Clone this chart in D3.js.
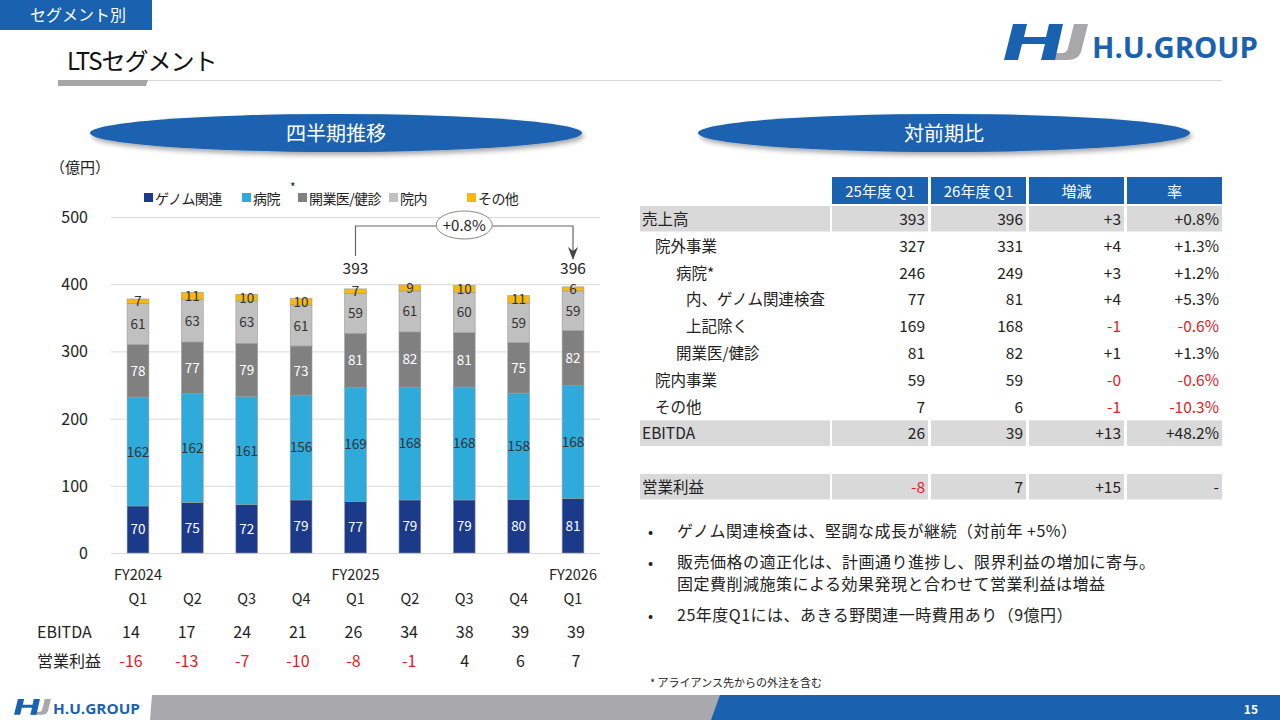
<!DOCTYPE html>
<html><head><meta charset="utf-8">
<script src="https://cdn.jsdelivr.net/npm/d3@7/dist/d3.min.js"></script>
<style>
body{margin:0;background:#fff;}
svg{display:block;font-family:"Noto Sans CJK JP","Noto Sans",sans-serif;}
</style></head><body>
<svg id="c" width="1280" height="720"></svg>
<script>
// ---------- data ----------
const quarters = ["Q1","Q2","Q3","Q4","Q1","Q2","Q3","Q4","Q1"];
const fiscalYears = ["FY2024","","","","FY2025","","","","FY2026"];
const seriesNames = ["ゲノム関連","病院","開業医/健診","院内","その他"];
const genome = [70,75,72,79,77,79,79,80,81];
const hospital = [162,162,161,156,169,168,168,158,168];
const practitioner = [78,77,79,73,81,82,81,75,82];
const inHospital = [61,63,63,61,59,61,60,59,59];
const other = [7,11,10,10,7,9,10,11,6];
const totalsShown = [null,null,null,null,393,null,null,null,396];
const ebitda = [14,17,24,21,26,34,38,39,39];
const opProfit = [-16,-13,-7,-10,-8,-1,4,6,7];
const yTicks = [0,100,200,300,400,500];

const tableHeader = ["25年度 Q1","26年度 Q1","増減","率"];
const tableLabels = ["売上高","院外事業","病院*","内、ゲノム関連検査","上記除く","開業医/健診","院内事業","その他","EBITDA","","営業利益"];
const tableIndent = [0,1,2,3,3,2,1,1,0,0,0];
const tableFy25 = ["393","327","246","77","169","81","59","7","26","","-8"];
const tableFy26 = ["396","331","249","81","168","82","59","6","39","","7"];
const tableDiff = ["+3","+4","+3","+4","-1","+1","-0","-1","+13","","+15"];
const tableRate = ["+0.8%","+1.3%","+1.2%","+5.3%","-0.6%","+1.3%","-0.6%","-10.3%","+48.2%","","-"];
const tableShaded = [true,false,false,false,false,false,false,false,true,false,true];

const bullets = [
  ["ゲノム関連検査は、堅調な成長が継続（対前年 +5%）"],
  ["販売価格の適正化は、計画通り進捗し、限界利益の増加に寄与。","固定費削減施策による効果発現と合わせて営業利益は増益"],
  ["25年度Q1には、あきる野関連一時費用あり（9億円）"]
];

// ---------- styles ----------
const BLUE = "#1a62b0";
const GREY_LOGO = "#a8a8aa";
const colors = ["#1b3a8a","#2eaadb","#808080","#c0c0c0","#f6b90e"];
const labelColors = ["#fff","#333","#fff","#333","#333"];
const RED = "#e0201f";

const svg = d3.select("#c");
const defs = svg.append("defs");
const f = defs.append("filter").attr("id","sh").attr("x","-10%").attr("y","-30%").attr("width","120%").attr("height","170%");
f.append("feDropShadow").attr("dx",2).attr("dy",3).attr("stdDeviation",2.5).attr("flood-color","#000").attr("flood-opacity",0.35);

// ---------- header ----------
svg.append("rect").attr("x",0).attr("y",0).attr("width",152).attr("height",30).attr("fill",BLUE);
svg.append("text").attr("x",30).attr("y",21).attr("fill","#fff").attr("font-size",16).text("セグメント別");
svg.append("text").attr("x",67).attr("y",70).attr("font-size",24).attr("letter-spacing",-1).attr("fill","#111").text("LTSセグメント");
svg.append("line").attr("x1",58).attr("x2",1222).attr("y1",80.5).attr("y2",80.5).attr("stroke","#d6d6d6").attr("stroke-width",1);
svg.append("path").attr("d","M58,80 H148 L146,86 H58 Z").attr("fill","#a6a6a6");

// logo icon drawn as paths (unit box 84x36)
function logoIcon(parent){
  parent.append("path").attr("d","M70,0 H84 L77,28 Q74,36 64,36 H40 L42,29 H58 Q63,29 64,24 Z").attr("fill",GREY_LOGO);
  parent.append("path").attr("d",
    "M9,0 H23 L20,13 H42 L45,0 H59 L51,36 H37 L41,20 H18 L14,36 H0 Z").attr("fill",BLUE);
}
const lg = svg.append("g").attr("transform","translate(1004,24)");
logoIcon(lg);
svg.append("text").attr("x",1092).attr("y",58).attr("font-size",29).attr("font-weight",700)
  .attr("font-family","Open Sans").attr("fill",BLUE).attr("textLength",166).attr("lengthAdjust","spacingAndGlyphs").text("H.U.GROUP");

// section ellipses
[[336,"四半期推移"],[944,"対前期比"]].forEach(([cx,t])=>{
  svg.append("ellipse").attr("cx",cx).attr("cy",133).attr("rx",246).attr("ry",19).attr("fill",BLUE).attr("filter","url(#sh)");
  svg.append("text").attr("x",cx).attr("y",141).attr("text-anchor","middle").attr("fill","#fff").attr("font-size",20).text(t);
});

// ---------- chart ----------
svg.append("text").attr("x",50).attr("y",173).attr("font-size",15).attr("fill","#222").text("（億円）");

const x = d3.scaleBand().domain(d3.range(quarters.length)).range([110.8,600.2]).paddingInner(0.6).paddingOuter(0.3);
const y = d3.scaleLinear().domain([0,500]).range([553,217]);

const grid = svg.append("g").attr("transform","translate(110.8,0)")
  .call(d3.axisLeft(y).tickValues(yTicks).tickSize(-489.4).tickFormat(""));
grid.select(".domain").remove();
grid.selectAll("line").attr("stroke","#d9d9d9");

svg.append("g").selectAll("text").data(yTicks).join("text")
  .attr("x",88).attr("y",d=>y(d)+6).attr("text-anchor","end").attr("font-size",16).attr("fill","#222").text(d=>d);

const seriesArr = [genome,hospital,practitioner,inHospital,other];
const rows = quarters.map((q,i)=>{const o={i}; seriesNames.forEach((n,k)=>o[n]=seriesArr[k][i]); return o;});
const stacked = d3.stack().keys(seriesNames)(rows);

const barG = svg.append("g");
stacked.forEach((layer,k)=>{
  barG.append("g").selectAll("rect").data(layer).join("rect")
    .attr("x",d=>x(d.data.i)).attr("width",x.bandwidth())
    .attr("y",d=>y(d[1])).attr("height",d=>y(d[0])-y(d[1]))
    .attr("fill",colors[k]).attr("stroke","#9a9a9a").attr("stroke-width",0.6);
});
stacked.forEach((layer,k)=>{
  barG.append("g").selectAll("text").data(layer).join("text")
    .attr("x",d=>x(d.data.i)+x.bandwidth()/2)
    .attr("y",d=>y((d[0]+d[1])/2)+5)
    .attr("text-anchor","middle").attr("font-size",13.5).attr("fill",labelColors[k])
    .text(d=>d[1]-d[0]);
});

// totals + growth bracket
const tIdx = totalsShown.map((v,i)=>v==null?null:i).filter(v=>v!=null);
svg.append("g").selectAll("text").data(tIdx).join("text")
  .attr("x",i=>x(i)+x.bandwidth()/2).attr("y",274).attr("text-anchor","middle")
  .attr("font-size",15.5).attr("fill","#222").text(i=>totalsShown[i]);
const xa = x(tIdx[0])+x.bandwidth()/2, xb = x(tIdx[1])+x.bandwidth()/2;
svg.append("path").attr("d",`M${xa},256 V226 H${xb} V252`).attr("fill","none").attr("stroke","#666").attr("stroke-width",1.2);
svg.append("path").attr("d",`M${xb-5},247 L${xb},260 L${xb+5},247 L${xb},251 Z`).attr("fill","#444");
const mx = (xa+xb)/2;
svg.append("ellipse").attr("cx",mx).attr("cy",225).attr("rx",28).attr("ry",14).attr("fill","#fff").attr("stroke","#888");
svg.append("text").attr("x",mx).attr("y",230.5).attr("text-anchor","middle").attr("font-size",15).attr("fill","#222").text("+0.8%");

// legend
const leg = svg.append("g");
const legX = [144,242,298,389,467];
seriesNames.forEach((n,k)=>{
  leg.append("rect").attr("x",legX[k]).attr("y",193).attr("width",9).attr("height",9).attr("fill",colors[k]);
  leg.append("text").attr("x",legX[k]+11).attr("y",203.5).attr("font-size",14).attr("letter-spacing",-0.6).attr("fill","#222").text(n);
});
leg.append("text").attr("x",290).attr("y",192).attr("font-size",12).attr("fill","#222").text("*");

// x labels
svg.append("g").selectAll("text").data(fiscalYears).join("text")
  .attr("x",(d,i)=>x(i)+x.bandwidth()/2).attr("y",580).attr("text-anchor","middle")
  .attr("font-size",14.5).attr("fill","#222").text(d=>d);
svg.append("g").selectAll("text").data(quarters).join("text")
  .attr("x",(d,i)=>x(i)+x.bandwidth()/2).attr("y",604).attr("text-anchor","middle")
  .attr("font-size",14.5).attr("fill","#222").text(d=>d);

// EBITDA / operating profit rows
const xv = d3.scalePoint().domain(d3.range(quarters.length)).range([131,576]);
svg.append("text").attr("x",37).attr("y",638).attr("font-size",16).attr("fill","#222").text("EBITDA");
svg.append("text").attr("x",37).attr("y",667).attr("font-size",16).attr("fill","#222").text("営業利益");
svg.append("g").selectAll("text").data(ebitda).join("text")
  .attr("x",(d,i)=>xv(i)).attr("y",638).attr("text-anchor","middle").attr("font-size",16).attr("fill","#222").text(d=>d);
svg.append("g").selectAll("text").data(opProfit).join("text")
  .attr("x",(d,i)=>xv(i)).attr("y",667).attr("text-anchor","middle").attr("font-size",16)
  .attr("fill",d=>d<0?RED:"#222").text(d=>d);

// ---------- table ----------
const colL = [832,931,1029,1127], colR = [928,1026,1124,1222];
const tg = svg.append("g");
tableHeader.forEach((h,c)=>{
  tg.append("rect").attr("x",colL[c]).attr("y",177).attr("width",colR[c]-colL[c]).attr("height",27).attr("fill",BLUE);
  tg.append("text").attr("x",(colL[c]+colR[c])/2).attr("y",196.5).attr("text-anchor","middle")
    .attr("fill","#fff").attr("font-size",15).text(h);
});
const rowY = i => 206 + i*26.8;
const cols = [tableFy25,tableFy26,tableDiff,tableRate];
tableLabels.forEach((lab,i)=>{
  const y0 = rowY(i);
  if(tableShaded[i]){
    tg.append("rect").attr("x",640).attr("y",y0).attr("width",190).attr("height",25.5).attr("fill","#d9d9d9");
    colL.forEach((cl,c)=>tg.append("rect").attr("x",cl).attr("y",y0).attr("width",colR[c]-cl).attr("height",25.5).attr("fill","#d9d9d9"));
  }
  tg.append("text").attr("x",642+[0,13,34,44][tableIndent[i]]).attr("y",y0+19).attr("font-size",15.5).attr("fill","#222").text(lab);
  cols.forEach((arr,c)=>{
    const v = arr[i];
    tg.append("text").attr("x",colR[c]-3).attr("y",y0+19).attr("text-anchor","end").attr("font-size",15.5)
      .attr("fill",(v.length>1&&v[0]==="-")?RED:"#222").text(v);
  });
});

// bullets
let by = 537;
bullets.forEach(lines=>{
  svg.append("text").attr("x",648).attr("y",by).attr("font-size",15).attr("fill","#222").text("•");
  lines.forEach((l,j)=>{
    svg.append("text").attr("x",677).attr("y",by+j*22).attr("font-size",16).attr("letter-spacing",0.5).attr("fill","#222").text(l);
  });
  by += (lines.length-1)*22 + 31;
});
svg.append("text").attr("x",650).attr("y",687).attr("font-size",11).attr("fill","#222").text("*  アライアンス先からの外注を含む");

// ---------- footer ----------
svg.append("path").attr("d","M152,695 H722 L713,720 H150 Z").attr("fill","#a9a8ad");
svg.append("path").attr("d","M720,695 H1280 V720 H711 Z").attr("fill",BLUE);
svg.append("text").attr("x",1258).attr("y",714).attr("text-anchor","end").attr("fill","#fff").attr("font-size",12).attr("font-weight",700).text("15");
const fl = svg.append("g").attr("transform","translate(14,699) scale(0.44)");
logoIcon(fl);
svg.append("text").attr("x",53).attr("y",714).attr("font-size",14.5).attr("font-weight",700)
  .attr("font-family","Open Sans").attr("fill",BLUE).attr("textLength",87).attr("lengthAdjust","spacingAndGlyphs").text("H.U.GROUP");
</script></body></html>
